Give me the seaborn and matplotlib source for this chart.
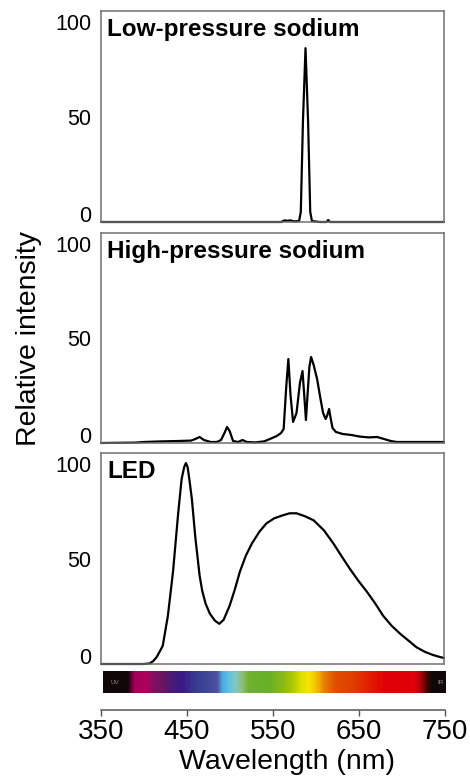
import numpy as np
import pandas as pd
import matplotlib
matplotlib.use("Agg")
import matplotlib.pyplot as plt
import matplotlib.transforms as mtransforms
from matplotlib.colors import LinearSegmentedColormap
import seaborn as sns

# ---- spectra (wavelength in nm, relative intensity) ----
lps_nm = [350, 560, 564, 567, 571, 575, 581, 583, 585.5, 588.5, 591.5, 594, 596,
          605, 613, 615, 617, 750]
lps_val = [0, 0, 0.8, 0.6, 0.8, 0.3, 0.5, 5, 50, 86.5, 50, 5, 0.5,
           0, 0, 1.0, 0, 0]

hps_nm = [350, 390, 400, 420, 440, 455, 460, 465, 470, 478, 485, 490, 494, 497,
          500, 504, 510, 515, 520, 530, 540, 547, 555, 560, 563, 566, 568.5, 571,
          574, 578, 582, 585, 587, 589, 591, 593, 595, 598, 602, 606, 609, 612,
          614, 616, 618, 620, 624, 632, 642, 652, 662, 672, 680, 688, 695, 750]
hps_val = [0, 0.2, 0.5, 0.8, 1.0, 1.2, 2, 3, 1.5, 0.5, 0.5, 1.5, 5, 8,
           6, 1, 0.5, 1.5, 0.5, 0.3, 0.8, 2, 3.5, 5, 7, 28, 42, 24,
           10.5, 15, 30, 36, 24, 11.5, 25, 38, 43, 39, 32, 22, 15, 12,
           14, 17, 12, 7.5, 5.5, 4.5, 4, 3.2, 2.8, 3, 2, 1, 0.5, 0.5]

led_nm = [350, 400, 407, 411, 415, 422, 428, 434, 440, 444, 447, 449, 451, 453,
          456, 460, 465, 468, 472, 477, 483, 488, 493, 500, 506, 512, 519, 526,
          535, 543, 552, 562, 570, 578, 588, 598, 610, 621, 630, 640, 650, 660,
          670, 679, 689, 699, 709, 718, 728, 737, 745, 750]
led_val = [0, 0, 0.3, 1.5, 3.5, 9, 24, 46, 75, 92, 98, 100, 98, 92,
           82, 63, 44, 36.5, 30, 25, 21.5, 20, 22, 29, 37, 46, 54, 60,
           66, 70, 72.5, 74, 75, 75, 73.5, 71.5, 66.5, 60, 54, 47.5, 41.5, 36,
           30, 24, 19, 15, 11.5, 8.3, 6, 4.5, 3.5, 3]

panel_titles = ["Low-pressure sodium", "High-pressure sodium", "LED"]
y_ticks = [0, 50, 100]
x_ticks = [350, 450, 550, 650, 750]

# visible-spectrum colour strip: (wavelength, colour)
strip_nm = [350, 378, 386, 399, 407, 419, 430, 442, 457, 473, 483, 489, 495,
            504, 512, 520, 543, 559, 570, 582, 591, 602, 608, 621, 640, 660,
            680, 714, 722, 728, 735, 750]
strip_col = ["#100808", "#100808", "#a0005a", "#b0005a", "#8a0e62", "#6a1560",
             "#4a1a78", "#3a1a88", "#3a3a90", "#404a98", "#5050a0", "#50a8e0",
             "#58c0e8", "#80c8c8", "#8cc080", "#70b030", "#68b028", "#88b818",
             "#a8c808", "#e0e000", "#f8e400", "#f0b000", "#e88000", "#e05000",
             "#e04000", "#e02000", "#e00008", "#e00008", "#b00008", "#500000",
             "#100808", "#100808"]

sns.set_style("white")
plt.rcParams["font.family"] = ["Liberation Sans", "DejaVu Sans"]
plt.rcParams["text.color"] = "black"
plt.rcParams["axes.labelcolor"] = "black"
plt.rcParams["xtick.color"] = "black"
plt.rcParams["ytick.color"] = "black"

W, H = 470, 776
fig = plt.figure(figsize=(W / 100, H / 100), dpi=100)


def fig_rect(x0, y0, x1, y1):
    return [x0 / W, (H - y1) / H, (x1 - x0) / W, (y1 - y0) / H]


panel_px = [(101, 11, 444, 222), (101, 233, 444, 443), (101, 453, 444, 664)]
series = [(lps_nm, lps_val), (hps_nm, hps_val), (led_nm, led_val)]
label_shift_px = [8, 5, -1]

for (x0, y0, x1, y1), (nm, val), title in zip(panel_px, series, panel_titles):
    ax = fig.add_axes(fig_rect(x0, y0, x1, y1))
    df = pd.DataFrame({"nm": nm, "val": val})
    sns.lineplot(data=df, x="nm", y="val", ax=ax, color="black", lw=1.6,
                 sort=False, estimator=None, clip_on=False)
    ax.set_xlim(350, 750)
    ax.set_ylim(0, 105)
    ax.set_xlabel("")
    ax.set_ylabel("")
    ax.set_xticks([])
    ax.set_yticks(y_ticks)
    ax.set_yticklabels([str(t) for t in y_ticks])
    ax.tick_params(axis="y", length=0, pad=7, labelsize=15.5, labelcolor="black")
    for lab, dy in zip(ax.get_yticklabels(), label_shift_px):
        lab.set_transform(lab.get_transform() +
                          mtransforms.Affine2D().translate(0, dy))
    for sp in ax.spines.values():
        sp.set_visible(True)
        sp.set_color("#707070")
        sp.set_linewidth(1.1)
    ax.annotate(title, xy=(0, 1), xycoords="axes fraction",
                xytext=(6, -25), textcoords="offset pixels",
                ha="left", va="baseline", fontsize=17.5, fontweight="bold",
                color="black")

# colour strip
cmap = LinearSegmentedColormap.from_list(
    "visible", [((w - 350) / 400, c) for w, c in zip(strip_nm, strip_col)])
axs = fig.add_axes(fig_rect(103, 671, 446, 693))
grad = np.linspace(0, 1, 800)[None, :]
axs.imshow(grad, cmap=cmap, aspect="auto", extent=[350, 750, 0, 1])
axs.set_xlim(350, 750)
axs.set_ylim(0, 1)
axs.axis("off")
axs.text(364, 0.5, "UV", color="#909090", fontsize=4.5, ha="center", va="center")
axs.text(744, 0.5, "IR", color="#909090", fontsize=4.5, ha="center", va="center")

# shared wavelength axis
axx = fig.add_axes(fig_rect(101, 709, 445, 710))
axx.set_xlim(350, 750)
axx.set_yticks([])
axx.set_xticks(x_ticks)
axx.set_xticklabels([str(t) for t in x_ticks])
for name, sp in axx.spines.items():
    sp.set_visible(name == "bottom")
axx.spines["bottom"].set_color("#555555")
axx.spines["bottom"].set_linewidth(1.1)
axx.tick_params(axis="x", direction="out", length=4, width=1.0, color="#555555",
                pad=2.5, labelsize=20, labelcolor="black", bottom=True)
axx.patch.set_alpha(0)

fig.text(287 / W, (H - 762) / H, "Wavelength (nm)", ha="center", va="center",
         fontsize=20.5, color="black")
fig.text(29 / W, (H - 338) / H, "Relative intensity", rotation=90,
         ha="center", va="center", fontsize=20.5, color="black")

fig.savefig("out.png", dpi=100)
